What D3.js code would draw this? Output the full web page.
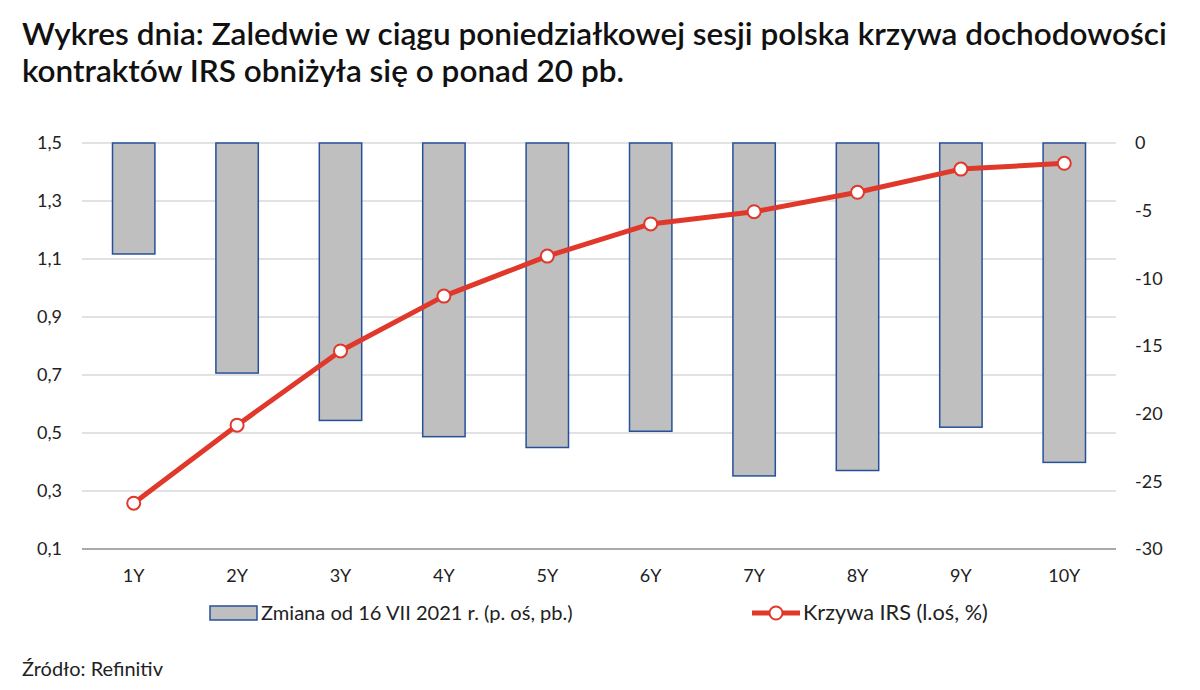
<!DOCTYPE html>
<html>
<head>
<meta charset="utf-8">
<script src="https://cdn.jsdelivr.net/npm/d3@7"></script>
<style>
  body { margin: 0; background: #fff; }
  text { font-family: Lato, "Open Sans", sans-serif; }
</style>
</head>
<body>
<svg id="chart" width="1200" height="690"></svg>
<script>
// data
const tenors = ['1Y', '2Y', '3Y', '4Y', '5Y', '6Y', '7Y', '8Y', '9Y', '10Y']
const changePb = [-8.2, -17.0, -20.5, -21.7, -22.5, -21.3, -24.6, -24.2, -21.0, -23.6]
const irsCurve = [0.258, 0.527, 0.783, 0.972, 1.110, 1.221, 1.263, 1.330, 1.410, 1.430]
const leftTicks = [0.1, 0.3, 0.5, 0.7, 0.9, 1.1, 1.3, 1.5]
const rightTicks = [-30, -25, -20, -15, -10, -5, 0]
const titleLines = [
    'Wykres dnia: Zaledwie w ciągu poniedziałkowej sesji polska krzywa dochodowości',
    'kontraktów IRS obniżyła się o ponad 20 pb.'
]
const legendBar = 'Zmiana od 16 VII 2021 r. (p. oś, pb.)'
const legendLine = 'Krzywa IRS (l.oś, %)'
const sourceText = 'Źródło: Refinitiv'

const svg = d3.select('#chart')
const plotL = 82, plotR = 1116, plotT = 143, plotB = 549
const red = '#e0382a', barFill = '#bfbfbf', barStroke = '#25519b'

const x = d3.scaleBand().domain(tenors).range([plotL, plotR]).paddingInner(0.59).paddingOuter(0.295)
const yL = d3.scaleLinear().domain([0.1, 1.5]).range([plotB, plotT])
const yR = d3.scaleLinear().domain([-30, 0]).range([plotB, plotT])

// shrink/grow a text's font size so it spans the given width
function fitWidth(sel, width) {
    let node = sel.node()
    let fs = +sel.attr('font-size')
    let w = node.getComputedTextLength()
    sel.attr('font-size', fs * width / w)
    return fs * width / w
}

// title
const t1 = svg.append('text').attr('x', 22).attr('y', 45)
    .attr('font-size', 28).attr('font-weight', 600).attr('fill', '#111')
    .text(titleLines[0])
const titleSize = fitWidth(t1, 1145)
svg.append('text').attr('x', 22).attr('y', 82)
    .attr('font-size', titleSize).attr('font-weight', 600).attr('fill', '#111')
    .text(titleLines[1])

// gridlines
svg.append('g').selectAll('line').data(leftTicks.slice(1)).join('line')
    .attr('x1', plotL).attr('x2', plotR)
    .attr('y1', d => yL(d)).attr('y2', d => yL(d))
    .attr('stroke', '#d9d9d9').attr('stroke-width', 1.5)
svg.append('line')
    .attr('x1', plotL).attr('x2', plotR)
    .attr('y1', plotB).attr('y2', plotB)
    .attr('stroke', '#8c8c8c').attr('stroke-width', 1.5)

// axes (labels only)
const axL = svg.append('g').attr('transform', `translate(${plotL},0)`)
    .call(d3.axisLeft(yL).tickValues(leftTicks).tickSize(0).tickPadding(20)
        .tickFormat(d => d3.format('.1f')(d).replace('.', ',')))
const axR = svg.append('g').attr('transform', `translate(${plotR},0)`)
    .call(d3.axisRight(yR).tickValues(rightTicks).tickSize(0).tickPadding(19)
        .tickFormat(d => d < 0 ? '-' + Math.abs(d) : d))
const axB = svg.append('g').attr('transform', `translate(0,${plotB})`)
    .call(d3.axisBottom(x).tickSize(0).tickPadding(20))
for (let ax of [axL, axR, axB]) {
    ax.select('.domain').remove()
    ax.selectAll('text').attr('font-size', 18).attr('fill', '#222')
        .style('font-family', 'Lato, "Open Sans", sans-serif')
}

// bars hanging from 0 on the right axis
svg.append('g').selectAll('rect').data(changePb).join('rect')
    .attr('x', (d, i) => x(tenors[i]))
    .attr('y', yR(0))
    .attr('width', x.bandwidth())
    .attr('height', d => yR(d) - yR(0))
    .attr('fill', barFill)
    .attr('stroke', barStroke)
    .attr('stroke-width', 1.5)

// IRS curve
const line = d3.line()
    .x((d, i) => x(tenors[i]) + x.bandwidth() / 2)
    .y(d => yL(d))
svg.append('path').datum(irsCurve)
    .attr('d', line)
    .attr('fill', 'none')
    .attr('stroke', red)
    .attr('stroke-width', 5)
    .attr('stroke-linejoin', 'round')
svg.append('g').selectAll('circle').data(irsCurve).join('circle')
    .attr('cx', (d, i) => x(tenors[i]) + x.bandwidth() / 2)
    .attr('cy', d => yL(d))
    .attr('r', 6.5)
    .attr('fill', '#fff')
    .attr('stroke', red)
    .attr('stroke-width', 2)

// legend
const lg = svg.append('g')
lg.append('rect')
    .attr('x', 210).attr('y', 606).attr('width', 47).attr('height', 14)
    .attr('fill', barFill).attr('stroke', barStroke).attr('stroke-width', 1.5)
fitWidth(lg.append('text').attr('x', 261).attr('y', 620).attr('font-size', 18).attr('fill', '#222').text(legendBar), 312)
lg.append('line')
    .attr('x1', 752).attr('x2', 800).attr('y1', 613).attr('y2', 613)
    .attr('stroke', red).attr('stroke-width', 5)
lg.append('circle')
    .attr('cx', 776).attr('cy', 613).attr('r', 6.5)
    .attr('fill', '#fff').attr('stroke', red).attr('stroke-width', 2)
fitWidth(lg.append('text').attr('x', 803).attr('y', 620).attr('font-size', 18).attr('fill', '#222').text(legendLine), 185)

// source
fitWidth(svg.append('text')
    .attr('x', 22).attr('y', 676)
    .attr('font-size', 18).attr('fill', '#222')
    .text(sourceText), 141)
</script>
</body>
</html>
